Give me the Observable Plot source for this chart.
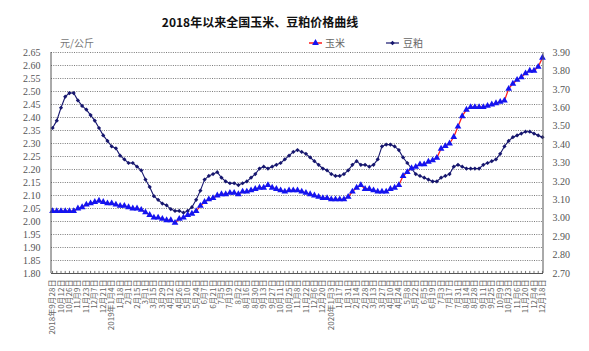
<!DOCTYPE html>
<html><head><meta charset="utf-8">
<script src="https://cdn.jsdelivr.net/npm/d3@7"></script>
<script src="https://cdn.jsdelivr.net/npm/@observablehq/plot@0.6"></script>
<style>body{margin:0;background:#fff;} svg{display:block;}</style>
</head><body><div id="chart"></div>
<script>
const titleText = "2018年以来全国玉米、豆粕价格曲线";
const unitText = "元/公斤";
const seriesNames = ["玉米", "豆粕"];

// tick labels (one every two weeks)
const tickLabels = [
 "2018年9月28日","10月12日","10月26日","11月9日","11月23日","12月7日","12月21日",
 "2019年1月4日","1月18日","2月1日","2月15日","3月1日","3月15日","3月29日","4月12日","4月26日",
 "5月10日","5月24日","6月7日","6月21日","7月5日","7月19日","8月2日","8月16日","8月30日",
 "9月13日","9月27日","10月11日","10月25日","11月8日","11月22日","12月6日","12月20日",
 "2020年1月3日","1月17日","1月31日","2月14日","2月28日","3月13日","3月27日","4月10日","4月24日",
 "5月8日","5月22日","6月5日","6月19日","7月3日","7月17日","7月31日","8月14日","8月28日",
 "9月11日","9月25日","10月9日","10月23日","11月6日","11月20日","12月4日","12月18日"
];

// 玉米 (left axis, 元/公斤)
const corn = [
 2.04,2.04,2.04,2.04,2.04,2.04,2.05,2.055,2.065,2.07,
 2.075,2.08,2.075,2.07,2.07,2.065,2.06,2.06,2.055,2.05,
 2.05,2.045,2.035,2.025,2.015,2.015,2.01,2.005,2.005,1.995,
 2.01,2.015,2.025,2.03,2.04,2.06,2.075,2.085,2.09,2.10,
 2.105,2.105,2.11,2.11,2.105,2.115,2.115,2.12,2.125,2.13,
 2.13,2.14,2.13,2.125,2.12,2.115,2.12,2.12,2.12,2.115,
 2.11,2.105,2.10,2.095,2.09,2.09,2.085,2.085,2.085,2.085,
 2.095,2.115,2.13,2.14,2.125,2.125,2.12,2.115,2.115,2.115,
 2.125,2.13,2.14,2.175,2.19,2.205,2.21,2.22,2.22,2.23,
 2.235,2.245,2.28,2.29,2.30,2.325,2.365,2.405,2.43,2.44,
 2.44,2.44,2.44,2.445,2.45,2.455,2.46,2.465,2.51,2.53,
 2.545,2.555,2.57,2.58,2.58,2.595,2.63
];

// 豆粕 (right axis, 元/公斤)
const soy = [
 3.49,3.53,3.60,3.66,3.68,3.68,3.64,3.61,3.59,3.56,
 3.53,3.49,3.45,3.42,3.39,3.38,3.34,3.32,3.30,3.30,
 3.28,3.26,3.21,3.17,3.12,3.10,3.08,3.07,3.05,3.04,
 3.04,3.03,3.04,3.06,3.10,3.15,3.21,3.23,3.24,3.25,
 3.22,3.20,3.19,3.19,3.18,3.19,3.20,3.22,3.24,3.27,
 3.28,3.27,3.28,3.29,3.30,3.32,3.34,3.36,3.37,3.36,
 3.35,3.33,3.31,3.29,3.27,3.26,3.24,3.23,3.23,3.24,
 3.26,3.29,3.31,3.29,3.29,3.28,3.29,3.32,3.39,3.40,
 3.40,3.39,3.37,3.33,3.30,3.27,3.24,3.23,3.22,3.21,
 3.20,3.20,3.22,3.23,3.24,3.28,3.29,3.28,3.27,3.27,
 3.27,3.27,3.29,3.30,3.31,3.32,3.35,3.39,3.42,3.44,
 3.45,3.46,3.47,3.47,3.46,3.45,3.44
];

const leftTicks = [1.80,1.85,1.90,1.95,2.00,2.05,2.10,2.15,2.20,2.25,2.30,2.35,2.40,2.45,2.50,2.55,2.60,2.65];
const rightTicks = [2.70,2.80,2.90,3.00,3.10,3.20,3.30,3.40,3.50,3.60,3.70,3.80,3.90];

const leftDomain = [1.80, 2.65];
const rightDomain = [2.70, 3.90];
const toLeft = v => leftDomain[0] + (v - rightDomain[0]) * (leftDomain[1] - leftDomain[0]) / (rightDomain[1] - rightDomain[0]);
const fromLeft = v => rightDomain[0] + (v - leftDomain[0]) * (rightDomain[1] - rightDomain[0]) / (leftDomain[1] - leftDomain[0]);

const n = corn.length;
const idx = d3.range(n);
const cornData = idx.map(i => ({i, v: corn[i]}));
const soyData = idx.map(i => ({i, v: toLeft(soy[i])}));
const labelIdx = tickLabels.map((_, k) => k * 2);

const cornLine = "#ff1a1a", cornMark = "#1414f0";
const soyColor = "#16166e";

const plot = Plot.plot({
  width: 589, height: 351,
  marginLeft: 51, marginRight: 46, marginTop: 52, marginBottom: 78,
  style: {fontFamily: "'Liberation Serif','Noto Sans CJK SC',serif", fontSize: "10px", color: "#555", background: "#fff", overflow: "visible"},
  x: {type: "point", domain: idx, padding: 0.25, round: false},
  y: {domain: leftDomain},
  marks: [
    Plot.gridY(leftTicks, {stroke: "#7a7a7a", strokeOpacity: 1, strokeDasharray: "1,1.3"}),
    Plot.axisY(leftTicks, {tickSize: 0, tickPadding: 11, tickFormat: d => d.toFixed(2), label: null}),
    Plot.axisY(rightTicks.map(toLeft), {anchor: "right", tickSize: 0, tickPadding: 9, tickFormat: d => fromLeft(d).toFixed(2), label: null}),
    Plot.axisX(labelIdx, {tickSize: 0, tickPadding: 6, tickRotate: -90, fontSize: 8, tickFormat: d => tickLabels[d / 2], label: null, fontFamily: "'Noto Sans CJK SC',sans-serif", fill: "#666"}),
    Plot.ruleX(idx, {x: d => d, y1: leftDomain[0], y2: leftDomain[0] + 0.008, stroke: "#555", strokeWidth: 0.8}),
    Plot.ruleY([leftDomain[0]], {stroke: "#555", strokeWidth: 1}),
    Plot.line(soyData, {x: "i", y: "v", stroke: soyColor, strokeWidth: 1.1}),
    Plot.dot(soyData, {x: "i", y: "v", symbol: "diamond2", r: 1.9, fill: soyColor, stroke: "none"}),
    Plot.line(cornData, {x: "i", y: "v", stroke: cornLine, strokeWidth: 1.3}),
    Plot.dot(cornData, {x: "i", y: "v", symbol: "triangle", r: 2.5, fill: cornMark, stroke: "none"})
  ]
});

const svg = d3.select(plot);
const ys = plot.scale("y");
const y0 = ys.range[0], y1 = ys.range[1];
// left and right axis lines
svg.append("line").attr("x1", 51).attr("x2", 51).attr("y1", y1).attr("y2", y0).attr("stroke", "#555");
svg.append("line").attr("x1", 543).attr("x2", 543).attr("y1", y1).attr("y2", y0).attr("stroke", "#555");

// title
svg.append("text").attr("x", 260).attr("y", 27).attr("text-anchor", "middle")
  .attr("font-family", "'Noto Sans CJK SC',sans-serif").attr("font-weight", "bold").attr("font-size", 12).attr("fill", "#111")
  .text(titleText);
// unit
svg.append("text").attr("x", 60).attr("y", 47).attr("text-anchor", "start").attr("font-family", "'Noto Sans CJK SC',serif").attr("font-size", 10).attr("fill", "#777").text(unitText);

// legend
const lg = svg.append("g").attr("text-anchor", "start");
lg.append("line").attr("x1", 309).attr("x2", 322).attr("y1", 43).attr("y2", 43).attr("stroke", cornLine).attr("stroke-width", 1.5);
lg.append("path").attr("d", d3.symbol(d3.symbolTriangle, 20)()).attr("transform", "translate(315.5,43)").attr("fill", cornMark);
lg.append("text").attr("x", 325).attr("y", 47).attr("font-family", "'Noto Sans CJK SC',serif").attr("font-size", 10).attr("fill", "#666").text(seriesNames[0]);
lg.append("line").attr("x1", 386).attr("x2", 399).attr("y1", 43).attr("y2", 43).attr("stroke", soyColor).attr("stroke-width", 1.2);
lg.append("path").attr("d", d3.symbol(d3.symbolSquare, 10)()).attr("transform", "translate(392.5,43) rotate(45)").attr("fill", soyColor);
lg.append("text").attr("x", 403).attr("y", 47).attr("font-family", "'Noto Sans CJK SC',serif").attr("font-size", 10).attr("fill", "#666").text(seriesNames[1]);

document.getElementById("chart").append(plot);
</script>
</body></html>
